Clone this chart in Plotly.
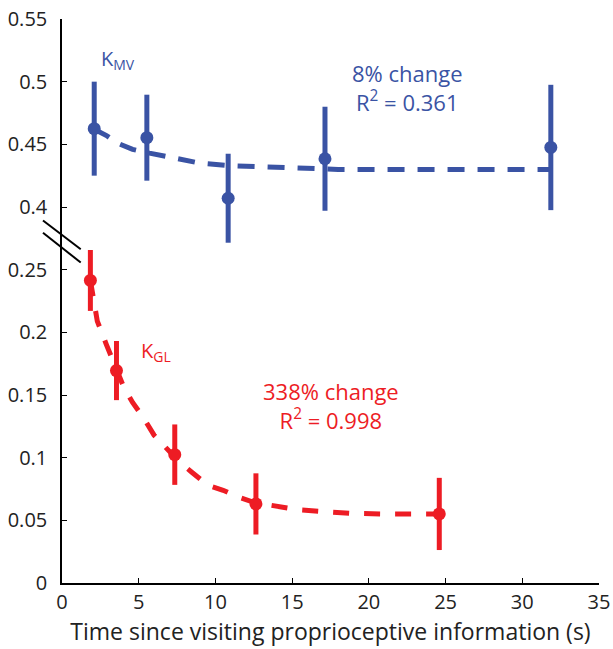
import plotly.graph_objects as go

# ---------------- data ----------------
# K_MV (blue) measured points
mv_t = [2.1, 5.53, 10.83, 17.14, 31.86]
mv_k = [0.4625, 0.4553, 0.4070, 0.4385, 0.4475]
mv_err = [0.0375, 0.0343, 0.0355, 0.0415, 0.0500]
# K_MV fitted curve
mv_fit_t = [2.1, 2.9, 3.6, 4.6, 5.7, 7.2, 9.0, 11.0, 13.0, 15.0, 18.0, 25.0, 31.86]
mv_fit_k = [0.462, 0.457, 0.451, 0.446, 0.443, 0.439, 0.435, 0.433, 0.432, 0.431, 0.430, 0.430, 0.430]

# K_GL (red) measured points
gl_t = [1.85, 3.55, 7.35, 12.64, 24.59]
gl_k = [0.2414, 0.1695, 0.1024, 0.0631, 0.0551]
gl_err = [0.0243, 0.0236, 0.0241, 0.0244, 0.0288]
# K_GL fitted curve
gl_fit_t = [1.85, 2.3, 2.9, 3.5, 4.0, 4.6, 5.3, 6.0, 6.8, 7.7, 8.5, 9.5, 10.5, 11.5, 12.6,
            14.4, 15.5, 17.0, 19.0, 21.5, 24.59]
gl_fit_k = [0.2414, 0.209, 0.190, 0.171, 0.157, 0.144, 0.132, 0.118, 0.108, 0.096, 0.088,
            0.078, 0.074, 0.0685, 0.064, 0.0607, 0.0583, 0.057, 0.0555, 0.055, 0.055]

# y axis ticks (broken axis: 0.25 -> 0.4)
y_tick_labels = ["0", "0.05", "0.1", "0.15", "0.2", "0.25", "0.4", "0.45", "0.5", "0.55"]
y_tick_values = [0, 0.05, 0.10, 0.15, 0.20, 0.25, 0.40, 0.45, 0.50, 0.55]
x_tick_values = [0, 5, 10, 15, 20, 25, 30, 35]

BREAK_SHIFT = 0.10  # values above the break are drawn 0.1 lower


def mapy(vals):
    return [round(v - BREAK_SHIFT, 6) if v > 0.3 else v for v in vals]


BLUE = "#3A53A4"
RED = "#ED1C24"
FONT = "Open Sans"

fig = go.Figure()

fig.add_trace(go.Scatter(x=mv_fit_t, y=mapy(mv_fit_k), mode="lines",
                         line=dict(color=BLUE, width=5, dash="17px,13px"),
                         hoverinfo="skip", showlegend=False))
fig.add_trace(go.Scatter(x=gl_fit_t, y=gl_fit_k, mode="lines",
                         line=dict(color=RED, width=5, dash="16px,15px"),
                         hoverinfo="skip", showlegend=False))

fig.add_trace(go.Scatter(x=mv_t, y=mapy(mv_k), mode="markers",
                         marker=dict(color=BLUE, size=13),
                         error_y=dict(type="data", array=mv_err, color=BLUE, thickness=5, width=0),
                         showlegend=False))
fig.add_trace(go.Scatter(x=gl_t, y=gl_k, mode="markers",
                         marker=dict(color=RED, size=13),
                         error_y=dict(type="data", array=gl_err, color=RED, thickness=5, width=0),
                         showlegend=False))

# annotations
fig.add_annotation(x=2.4, y=0.4175, text="K<sub>MV</sub>", showarrow=False,
                   xanchor="left", yanchor="middle", font=dict(family=FONT, size=20, color=BLUE))
fig.add_annotation(x=22.5, y=0.395, text="8% change<br>R<sup>2</sup> = 0.361", showarrow=False,
                   xanchor="center", yanchor="middle", font=dict(family=FONT, size=22, color=BLUE))
fig.add_annotation(x=5.0, y=0.185, text="K<sub>GL</sub>", showarrow=False,
                   xanchor="left", yanchor="middle", font=dict(family=FONT, size=20, color=RED))
fig.add_annotation(x=17.5, y=0.142, text="338% change<br>R<sup>2</sup> = 0.998", showarrow=False,
                   xanchor="center", yanchor="middle", font=dict(family=FONT, size=22, color=RED))

# axis break marks (decoration, in paper coordinates)
L, R_, B, T = 62.3, 599.0, 583.0, 19.3


def px2paper(px, py):
    return (px - L) / (R_ - L), (B - py) / (B - T)


for (x0, y0, x1, y1) in [(43.3, 220.7, 81.0, 249.5), (43.3, 233.0, 81.0, 262.7)]:
    a0, b0 = px2paper(x0, y0)
    a1, b1 = px2paper(x1, y1)
    fig.add_shape(type="line", xref="paper", yref="paper", x0=a0, y0=b0, x1=a1, y1=b1,
                  line=dict(color="black", width=2))

fig.update_layout(
    width=613, height=649,
    margin=dict(l=62, r=14, t=19, b=66),
    paper_bgcolor="white", plot_bgcolor="white",
    font=dict(family=FONT, size=20, color="#222222"),
    showlegend=False,
)
fig.update_xaxes(range=[0, 35], tickvals=x_tick_values, ticks="inside", ticklen=5,
                 tickcolor="black", showline=True, linecolor="black", linewidth=1.5,
                 showgrid=False, zeroline=False, tickfont=dict(size=20), automargin=False,
                 ticklabeloverflow="allow",
                 title=dict(text="Time since visiting proprioceptive information (s)",
                            font=dict(size=23), standoff=6))
fig.update_yaxes(range=[0, 0.45], tickvals=mapy(y_tick_values), ticktext=y_tick_labels,
                 ticks="inside", ticklen=5, tickcolor="black", showline=True,
                 linecolor="black", linewidth=1.5, showgrid=False, zeroline=False,
                 tickfont=dict(size=20), ticklabelstandoff=9, automargin=False,
                 ticklabeloverflow="allow")

# remove the default 8px page margin so the figure fills the window exactly
fig.write_html("out.html", config={"displayModeBar": False},
               post_script="document.body.style.margin='0';document.body.style.overflow='hidden';")
